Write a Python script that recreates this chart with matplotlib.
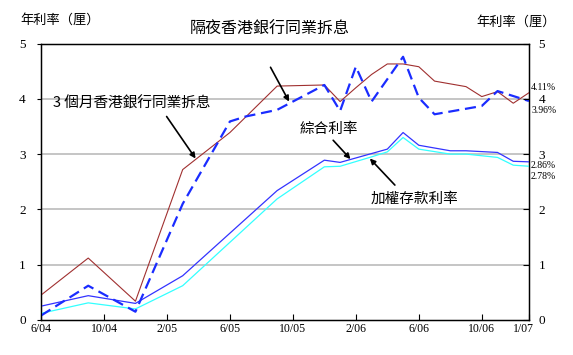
import matplotlib
matplotlib.use("Agg")
import matplotlib.pyplot as plt
import matplotlib.transforms as mtransforms

plt.rcParams['font.family'] = ['Noto Sans CJK TC', 'DejaVu Sans']

# Month index: 0 = 6/04 ... 31 = 1/07
tick_pos = [0, 4, 8, 12, 16, 20, 24, 28, 31]
tick_labels = ["6/04", "10/04", "2/05", "6/05", "10/05", "2/06", "6/06", "10/06", "1/07"]

hibor3m_x = [0, 3, 6, 9, 12, 15, 18, 19, 20, 21, 22, 23, 24, 25, 27, 28, 29, 30, 31]
hibor3m_y = [0.45, 1.12, 0.34, 2.72, 3.39, 4.23, 4.25, 3.95, 4.20, 4.44, 4.63, 4.63, 4.58,
             4.32, 4.22, 4.04, 4.13, 3.92, 4.11]

hibor_on_x = [0, 3, 6, 9, 12, 13, 15, 16, 18, 19, 20, 21, 23, 24, 25, 28, 29, 31]
hibor_on_y = [0.08, 0.62, 0.15, 2.10, 3.59, 3.68, 3.80, 3.95, 4.25, 3.78, 4.58, 3.95, 4.76,
              4.02, 3.72, 3.87, 4.14, 3.96]

composite_x = [0, 3, 6, 9, 15, 18, 19, 21, 22, 23, 24, 26, 27, 29, 30, 31]
composite_y = [0.25, 0.44, 0.30, 0.80, 2.34, 2.89, 2.85, 3.01, 3.09, 3.39, 3.16, 3.06, 3.06,
               3.03, 2.87, 2.86]

deposit_x = [0, 3, 6, 9, 15, 18, 19, 21, 22, 23, 24, 26, 27, 29, 30, 31]
deposit_y = [0.12, 0.31, 0.20, 0.62, 2.19, 2.77, 2.78, 2.95, 3.04, 3.30, 3.09, 3.00, 3.00,
             2.94, 2.80, 2.78]

fig = plt.figure(figsize=(5.73, 3.55), dpi=100)
ax = fig.add_axes([41/573, 1-320/355, (529-41)/573, (320-43.5)/355])
ax.set_xlim(0, 31)
ax.set_ylim(0, 5)

for yv in [1, 2, 3, 4]:
    ax.axhline(yv, color='#c0c0c0', lw=1.3, zorder=1)

ax.plot(hibor3m_x, hibor3m_y, color='#a03030', lw=0.8, zorder=3)
ax.plot(hibor_on_x, hibor_on_y, color='#1a2cff', lw=1.6, dashes=(5, 2.6), zorder=4)
ax.plot(composite_x, composite_y, color='#3333ff', lw=0.9, zorder=3)
ax.plot(deposit_x, deposit_y, color='#33ffff', lw=0.9, zorder=3)

serif = 'Liberation Serif'
ax.set_xticks(tick_pos)
ax.set_xticklabels(tick_labels, family=serif, fontsize=8.5)
ax.tick_params(axis='x', direction='in', length=4, pad=2, width=0.8)
ax.set_yticks([0, 1, 2, 3, 4, 5])
ax.set_yticklabels(['0', '1', '2', '3', '4', '5'], family=serif, fontsize=9.5)
ax.tick_params(axis='y', direction='out', length=3, pad=8, width=0.8)
for s in ax.spines.values():
    s.set_linewidth(1.0)

# nudge last x label slightly left so it does not touch the right-axis "0"
last = ax.get_xticklabels()[-1]
last.set_transform(last.get_transform() + mtransforms.ScaledTranslation(-4/72, 0, fig.dpi_scale_trans))

ax2 = ax.twinx()
ax2.set_ylim(0, 5)
ax2.set_yticks([0, 1, 2, 3, 4, 5])
ax2.set_yticklabels(['0', '1', '2', '3', '4', '5'], family=serif, fontsize=9.5)
ax2.tick_params(axis='y', direction='in', length=4, pad=7, width=0.8)

fig.text(20/573, 1-20/355, '年利率（厘）', fontsize=9.5, ha='left', va='center')
fig.text(556/573, 1-22/355, '年利率（厘）', fontsize=9.5, ha='right', va='center')

arrow = dict(arrowstyle='-|>', color='black', lw=1.2, mutation_scale=8, shrinkA=0, shrinkB=0)
ax.text(14.5, 5.26, '隔夜香港銀行同業拆息', fontsize=11.5, ha='center', va='center', clip_on=False)
ax.annotate('', xy=(15.76, 3.95), xytext=(14.58, 4.57), arrowprops=arrow)
ax.text(5.78, 3.92, '3 個月香港銀行同業拆息', fontsize=10.5, ha='center', va='center')
ax.annotate('', xy=(9.82, 2.92), xytext=(7.98, 3.68), arrowprops=arrow)
ax.text(18.25, 3.45, '綜合利率', fontsize=10.5, ha='center', va='center')
ax.annotate('', xy=(19.66, 2.91), xytext=(18.56, 3.25), arrowprops=arrow)
ax.text(23.75, 2.19, '加權存款利率', fontsize=10.5, ha='center', va='center')
ax.annotate('', xy=(20.89, 2.92), xytext=(22.48, 2.44), arrowprops=arrow)

end_labels = ['4.11%', '3.96%', '2.86%', '2.78%']
end_values = [4.11, 3.96, 2.86, 2.78]
end_offsets = [3.4, -6.5, -2.8, -7.5]
for lab, v, off in zip(end_labels, end_values, end_offsets):
    ax.annotate(lab, xy=(31, v), xytext=(1.5, off), textcoords='offset points',
                fontsize=7, family=serif, ha='left', va='center', annotation_clip=False)

fig.savefig('out.png', dpi=100)
